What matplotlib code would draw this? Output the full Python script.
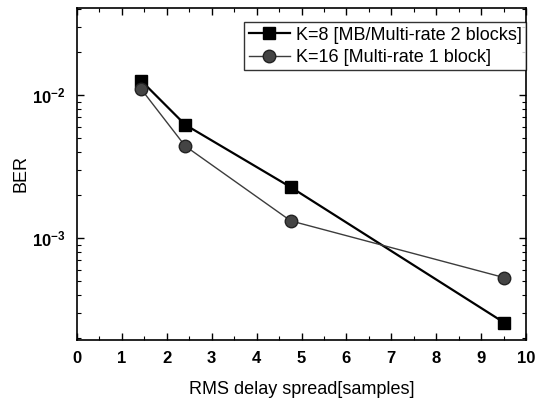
import matplotlib
matplotlib.use("Agg")
import matplotlib.pyplot as plt
import numpy as np
from matplotlib.ticker import LogLocator, NullFormatter, MultipleLocator, FuncFormatter

plt.rcParams['font.family'] = ['Liberation Sans', 'DejaVu Sans']
plt.rcParams['mathtext.fontset'] = 'custom'
plt.rcParams['mathtext.rm'] = 'Liberation Sans'
plt.rcParams['mathtext.bf'] = 'Liberation Sans:bold'

x_vals = [1.43, 2.41, 4.76, 9.51]
ber_k8 = [0.0126, 0.0062, 0.00227, 0.000257]
ber_k16 = [0.011, 0.0044, 0.00132, 0.00053]
label_k8 = "K=8 [MB/Multi-rate 2 blocks]"
label_k16 = "K=16 [Multi-rate 1 block]"
x_label = "RMS delay spread[samples]"
y_label = "BER"
x_ticks = list(range(0, 11))

fig = plt.figure(figsize=(5.43, 4.03), dpi=100)
ax = fig.add_axes([77 / 543, 63 / 403, 449 / 543, 332 / 403])

ax.plot(x_vals, ber_k8, color='black', lw=1.6, marker='s', ms=9,
        markerfacecolor='black', markeredgecolor='black', label=label_k8)
ax.plot(x_vals, ber_k16, color='#3c3c3c', lw=1.0, marker='o', ms=9,
        markerfacecolor='#444444', markeredgecolor='#222222', label=label_k16)

ax.set_yscale('log')
ax.set_xlim(0, 10)
ax.set_ylim(1.94e-4, 0.0406)
ax.set_xticks(x_ticks)
ax.xaxis.set_minor_locator(MultipleLocator(0.5))
ax.yaxis.set_major_locator(LogLocator(base=10, numticks=10))
ax.yaxis.set_minor_locator(LogLocator(base=10, subs=range(2, 10), numticks=10))
ax.yaxis.set_minor_formatter(NullFormatter())
ax.yaxis.set_major_formatter(FuncFormatter(
    lambda v, p: r'$\mathbf{10^{%d}}$' % int(round(np.log10(v)))))

ax.tick_params(which='both', direction='in', top=True, right=True)
ax.tick_params(which='major', length=5, width=1, labelsize=12, pad=8)
ax.tick_params(which='minor', length=3, width=0.8)
for lab in ax.get_xticklabels() + ax.get_yticklabels():
    lab.set_fontweight('bold')
for s in ax.spines.values():
    s.set_linewidth(1.2)

ax.set_xlabel(x_label, fontsize=13, labelpad=11)
ax.set_ylabel(y_label, fontsize=13, labelpad=2)

leg = ax.legend(loc='upper right', fontsize=13, frameon=True, fancybox=False,
                edgecolor='black', borderpad=0.25, handlelength=2.3,
                handletextpad=0.3, labelspacing=0.3, borderaxespad=0.0,
                bbox_to_anchor=(526 / 543, 1 - 22 / 403),
                bbox_transform=fig.transFigure)
leg.get_frame().set_linewidth(1.0)

fig.savefig("out.png", dpi=100)
